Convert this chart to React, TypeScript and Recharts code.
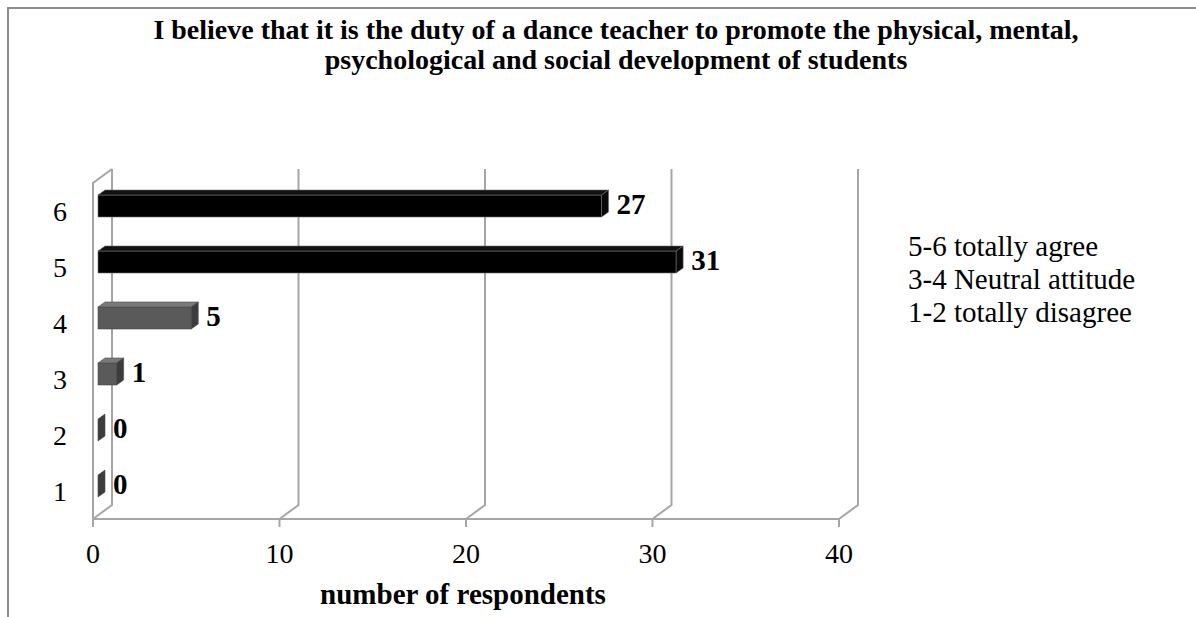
import React from 'react';
import { BarChart, Bar, XAxis, YAxis, CartesianGrid, LabelList, Cell } from 'recharts';

const categories = ['1', '2', '3', '4', '5', '6'];
const respondents = [0, 0, 1, 5, 31, 27];
const xTicks = [0, 10, 20, 30, 40];
const titleLines = [
  'I believe that it is the duty of a dance teacher to promote the physical, mental,',
  'psychological and social development of students',
];
const legendLines = ['5-6 totally agree', '3-4 Neutral attitude', '1-2 totally disagree'];
const xAxisTitle = 'number of respondents';

const data = categories.map((c, i) => ({ cat: c, value: respondents[i] }));

const FONT = '"Liberation Serif", "Times New Roman", Times, serif';
const GRID = '#a6a6a6';
// wall depth
const DX = 19;
const DY = 14;
// bar placement inside depth
const OX = 5;
const OY = -5;
const BDX = 7;
const BDY = 5;

const colorsFor = (cat: string) => {
  const n = Number(cat);
  if (n >= 5) return { front: '#000000', top: '#111111', side: '#080808', edge: '#6e6e6e' };
  return { front: '#5a5a5a', top: '#7a7a7a', side: '#3c3c3c', edge: '#4a4a4a' };
};

const GridLine = (props: any) => {
  const { x1, y1, y2, index } = props;
  const back = `M${x1},${y2} L${x1 + DX},${y2 - DY} L${x1 + DX},${y1 - DY}`;
  return (
    <g key={`g-${index}`}>
      <path d={back} fill="none" stroke={GRID} strokeWidth={2} />
      {index === 0 && (
        <path d={`M${x1},${y2} L${x1},${y1} L${x1 + DX},${y1 - DY}`} fill="none" stroke={GRID} strokeWidth={2} />
      )}
    </g>
  );
};

const Bar3D = (props: any) => {
  const { x, y, width, height, payload } = props;
  const c = colorsFor(payload.cat);
  const fx = x + OX;
  const fy = y + OY;
  const w = Math.max(0, width);
  const top = `M${fx},${fy} L${fx + BDX},${fy - BDY} L${fx + w + BDX},${fy - BDY} L${fx + w},${fy} Z`;
  const side = `M${fx + w},${fy} L${fx + w + BDX},${fy - BDY} L${fx + w + BDX},${fy + height - BDY} L${fx + w},${fy + height} Z`;
  return (
    <g>
      {w > 0 && <rect x={fx} y={fy} width={w} height={height} fill={c.front} stroke={c.edge} strokeWidth={0.6} />}
      {w > 0 && <path d={top} fill={c.top} stroke={c.edge} strokeWidth={0.6} />}
      <path d={side} fill={c.side} stroke={c.edge} strokeWidth={0.6} />
    </g>
  );
};

const ValueLabel = (props: any) => {
  const { x, y, width, height, value } = props;
  const lx = x + Math.max(0, width) + OX + BDX + 8;
  const ly = y + OY + height / 2 - BDY / 2 + 10;
  return (
    <text x={lx} y={ly} fontFamily={FONT} fontWeight="bold" fontSize={29} fill="#000">
      {value}
    </text>
  );
};

export default function App() {
  return (
    <div style={{ position: 'absolute', left: 0, top: 0, width: 1196, height: 617, background: '#fff' }}>
      <BarChart
        width={1196}
        height={617}
        data={data}
        layout="vertical"
        margin={{ top: 183, right: 357, bottom: 58, left: 33 }}
        barSize={22}
      >
        <path d="M8,617 L8,8 L1196,8" fill="none" stroke="#8c8c8c" strokeWidth={2} />
        {titleLines.map((t, i) => (
          <text
            key={t}
            x={616}
            y={39 + i * 30}
            textAnchor="middle"
            fontFamily={FONT}
            fontWeight="bold"
            fontSize={28}
            fill="#000"
          >
            {t}
          </text>
        ))}
        {legendLines.map((t, i) => (
          <text key={t} x={908} y={256 + i * 33} fontFamily={FONT} fontSize={29} fill="#000">
            {t}
          </text>
        ))}
        <text x={463} y={604} textAnchor="middle" fontFamily={FONT} fontWeight="bold" fontSize={29} fill="#000">
          {xAxisTitle}
        </text>
        <CartesianGrid horizontal={false} vertical={GridLine} />
        <XAxis
          type="number"
          domain={[0, 40]}
          ticks={xTicks}
          height={40}
          axisLine={{ stroke: GRID, strokeWidth: 2 }}
          tickLine={{ stroke: GRID, strokeWidth: 2 }}
          tickSize={8}
          tickMargin={16}
          tick={{ fontFamily: FONT, fontSize: 28, fill: '#000' }}
          interval={0}
        />
        <YAxis
          type="category"
          dataKey="cat"
          reversed
          width={60}
          axisLine={false}
          tickLine={false}
          tickMargin={20}
          tick={{ fontFamily: FONT, fontSize: 28, fill: '#000' }}
          interval={0}
        />
        <Bar dataKey="value" isAnimationActive={false} shape={Bar3D}>
          {data.map((d) => (
            <Cell key={d.cat} fill={colorsFor(d.cat).front} />
          ))}
          <LabelList dataKey="value" content={ValueLabel} />
        </Bar>
      </BarChart>
    </div>
  );
}
